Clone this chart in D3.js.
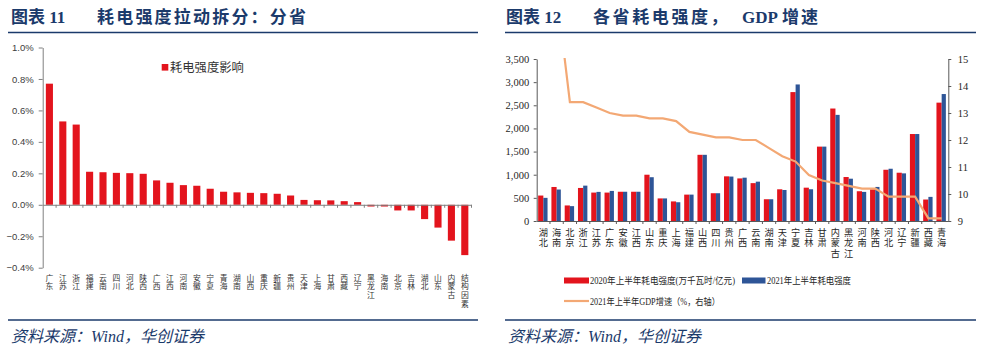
<!DOCTYPE html>
<html>
<head>
<meta charset="utf-8">
<script src="https://cdn.jsdelivr.net/npm/d3@7"></script>
<style>
  html, body { margin: 0; padding: 0; background: #ffffff; }
  svg { display: block; }
  .vlab { writing-mode: vertical-rl; text-orientation: upright; }
</style>
</head>
<body>
<svg id="chart" width="983" height="353"></svg>
<script>
// ---------------- Chart 11 data ----------------
const leftCategories = ["广东","江苏","浙江","福建","云南","四川","河北","陕西","广西","江西","河南","安徽","宁夏","青海","湖南","山西","重庆","新疆","贵州","天津","上海","甘肃","西藏","辽宁","黑龙江","海南","北京","吉林","湖北","山东","内蒙古","结构因素"];
const leftValues = [0.77,0.53,0.51,0.21,0.207,0.203,0.201,0.197,0.155,0.14,0.125,0.121,0.102,0.083,0.079,0.076,0.074,0.07,0.059,0.031,0.029,0.028,0.023,0.017,-0.011,-0.011,-0.036,-0.036,-0.091,-0.145,-0.228,-0.32];
const leftTicks = [1.0,0.8,0.6,0.4,0.2,0.0,-0.2,-0.4];
const leftLegend = "耗电强度影响";

// ---------------- Chart 12 data ----------------
const rightCategories = ["湖北","海南","北京","浙江","江苏","广东","安徽","江西","山东","重庆","上海","福建","山西","四川","贵州","广西","云南","湖南","天津","宁夏","吉林","甘肃","内蒙古","黑龙江","河南","陕西","河北","辽宁","新疆","西藏","青海"];
const intensity2020 = [550,735,336,714,614,614,632,632,1000,488,423,570,1430,600,965,920,818,470,685,2785,720,1607,2430,950,643,686,1107,1043,1879,464,2557];
const intensity2021 = [500,680,321,764,629,650,632,632,946,488,405,570,1430,600,960,936,850,470,670,2950,686,1607,2293,914,629,736,1129,1029,1879,521,2743];
const gdpGrowth = [28.5,17.5,13.4,13.4,13.2,13.0,12.9,12.9,12.8,12.8,12.7,12.3,12.2,12.1,12.1,12.0,12.0,11.7,11.4,11.2,10.7,10.5,10.4,10.3,10.2,10.2,9.9,9.9,9.9,9.1,9.1];
const leftAxisTicks = [0,500,1000,1500,2000,2500,3000,3500];
const rightAxisTicks = [9,10,11,12,13,14,15];
const legendNames = ["2020年上半年耗电强度(万千瓦时/亿元)","2021年上半年耗电强度","2021年上半年GDP增速（%，右轴）"];

const svg = d3.select("#chart");
const NAVY = "#1b3a6b";
const RED = "#e3141d";
const BLUE = "#2e5597";
const ORANGE = "#f3a874";
const CJK = "'Noto Sans CJK SC', sans-serif";
const SERIF_CJK = "'Liberation Serif', 'Noto Sans CJK SC', serif";

// ---------- Headers / footers ----------
function header(x0, x1, parts) {
  const t = svg.append("text").attr("y", 23).attr("fill", NAVY)
    .attr("font-weight", "bold").attr("font-size", 17).attr("font-family", SERIF_CJK);
  parts.forEach(p => {
    t.append("tspan").attr("x", p.x).text(p.t)
      .attr("letter-spacing", p.ls || 0);
  });
  svg.append("line").attr("x1", x0).attr("x2", x1).attr("y1", 32.5).attr("y2", 32.5)
    .attr("stroke", NAVY).attr("stroke-width", 1.5);
  svg.append("line").attr("x1", x0).attr("x2", x1).attr("y1", 320).attr("y2", 320)
    .attr("stroke", NAVY).attr("stroke-width", 1.5);
  svg.append("text").attr("x", x0 + 3).attr("y", 342).attr("fill", NAVY)
    .attr("font-size", 16).attr("font-style", "italic").attr("font-family", SERIF_CJK)
    .text("资料来源：Wind，华创证券");
}
header(8, 478, [{x: 11, t: "图表 11"}, {x: 97, t: "耗电强度拉动拆分：分省", ls: 2.2}]);
header(505, 976, [{x: 506, t: "图表 12"}, {x: 593, t: "各省耗电强度，", ls: 2.6}, {x: 742, t: "GDP"}, {x: 782, t: "增速", ls: 2}]);

// ---------- Chart 11 ----------
{
  const x = d3.scaleBand().domain(leftCategories).range([42.7, 471.5]).paddingInner(0.47).paddingOuter(0.235);
  const y = d3.scaleLinear().domain([-0.4, 1.0]).range([267.7, 47.5]);
  const g = svg.append("g");

  g.selectAll("rect.bar").data(leftValues).join("rect")
    .attr("x", (d, i) => x(leftCategories[i]))
    .attr("width", x.bandwidth())
    .attr("y", d => y(Math.max(0, d)))
    .attr("height", d => Math.abs(y(d) - y(0)))
    .attr("fill", RED);

  const ya = g.append("g").attr("transform", "translate(42.7,0)")
    .call(d3.axisLeft(y).tickValues(leftTicks).tickSize(4).tickSizeOuter(0).tickFormat(d => d3.format(".1f")(d) + "%"));
  ya.select(".domain").attr("stroke", "#808080");
  ya.selectAll(".tick line").attr("stroke", "#808080");
  ya.selectAll(".tick text").attr("font-family", "'Liberation Sans', Arial, sans-serif")
    .attr("font-size", 9.5).attr("fill", "#404040").attr("dx", -2);

  const step = x.step();
  const bounds = leftCategories.map(c => x(c) - x.paddingInner() * step / 2);
  const xa = g.append("g").attr("transform", `translate(0,${y(0)})`)
    .call(d3.axisBottom(x).tickSize(0).tickSizeOuter(0).tickFormat(""));
  xa.select(".domain").attr("stroke", "#808080");
  g.selectAll("line.xt").data(bounds.concat([bounds[bounds.length - 1] + step]).slice(1)).join("line")
    .attr("x1", d => d).attr("x2", d => d).attr("y1", y(0)).attr("y2", y(0) + 3)
    .attr("stroke", "#808080");

  g.selectAll("text.lx").data(leftCategories).join("text")
    .attr("class", "vlab").attr("font-family", CJK).attr("font-size", 7.8).attr("fill", "#333")
    .attr("letter-spacing", 0.8)
    .attr("x", c => x(c) + x.bandwidth() / 2).attr("y", 274).text(c => c);

  g.append("rect").attr("x", 161.7).attr("y", 64).attr("width", 6.6).attr("height", 6.6).attr("fill", RED);
  g.append("text").attr("x", 170).attr("y", 71.5).attr("font-family", CJK).attr("font-size", 12.3)
    .attr("fill", "#333").text(leftLegend);
}

// ---------- Chart 12 ----------
{
  const x = d3.scaleBand().domain(rightCategories).range([536.7, 948.3]);
  const yL = d3.scaleLinear().domain([0, 3500]).range([221, 59]);
  const yR = d3.scaleLinear().domain([9, 15]).range([221, 59]);
  const g = svg.append("g");
  const c = cat => x(cat) + x.bandwidth() / 2;

  g.selectAll("rect.r20").data(intensity2020).join("rect")
    .attr("x", (d, i) => c(rightCategories[i]) - 5.2).attr("width", 5.2)
    .attr("y", d => yL(d)).attr("height", d => yL(0) - yL(d)).attr("fill", RED);
  g.selectAll("rect.r21").data(intensity2021).join("rect")
    .attr("x", (d, i) => c(rightCategories[i])).attr("width", 4.2)
    .attr("y", d => yL(d)).attr("height", d => yL(0) - yL(d)).attr("fill", BLUE);

  svg.append("clipPath").attr("id", "plotclip").append("rect")
    .attr("x", 536.7).attr("y", 58).attr("width", 411.6).attr("height", 164);
  const line = d3.line().x((d, i) => c(rightCategories[i])).y(d => yR(d));
  g.append("path").datum(gdpGrowth).attr("d", line).attr("fill", "none")
    .attr("stroke", ORANGE).attr("stroke-width", 2.2).attr("clip-path", "url(#plotclip)");

  const fmt = d3.format(",");
  const al = g.append("g").attr("transform", "translate(536.7,0)")
    .call(d3.axisLeft(yL).tickValues(leftAxisTicks).tickSize(3).tickSizeOuter(0).tickFormat(fmt));
  const ar = g.append("g").attr("transform", "translate(948.3,0)")
    .call(d3.axisRight(yR).tickValues(rightAxisTicks).tickSize(3).tickSizeOuter(0).tickFormat(d3.format("d")));
  [al, ar].forEach(a => {
    a.select(".domain").attr("stroke", "#595959");
    a.selectAll(".tick line").attr("stroke", "#595959");
    a.selectAll(".tick text").attr("font-family", "'Liberation Serif', 'Times New Roman', serif")
      .attr("font-size", 10.5).attr("fill", "#262626");
  });
  al.selectAll(".tick text").attr("dx", -1.5);
  ar.selectAll(".tick text").attr("dx", 3.5);

  const xa = g.append("g").attr("transform", "translate(0,221)")
    .call(d3.axisBottom(x).tickSize(0).tickSizeOuter(0).tickFormat(""));
  xa.select(".domain").attr("stroke", "#595959");
  const bnds = rightCategories.map(k => x(k));
  g.selectAll("line.xt").data(bnds.slice(1)).join("line")
    .attr("x1", d => d).attr("x2", d => d).attr("y1", 221).attr("y2", 224).attr("stroke", "#595959");

  g.selectAll("text.rx").data(rightCategories).join("text")
    .attr("class", "vlab").attr("font-family", CJK).attr("font-size", 9.2).attr("fill", "#262626")
    .attr("letter-spacing", 1.2)
    .attr("x", k => c(k)).attr("y", 228).text(k => k);

  g.append("rect").attr("x", 564).attr("y", 277.5).attr("width", 25).attr("height", 6).attr("fill", RED);
  g.append("text").attr("x", 590).attr("y", 284).attr("font-family", SERIF_CJK).attr("font-size", 9.4)
    .attr("textLength", 145).attr("lengthAdjust", "spacingAndGlyphs")
    .attr("fill", "#262626").text(legendNames[0]);
  g.append("rect").attr("x", 742).attr("y", 277.5).attr("width", 23.5).attr("height", 6).attr("fill", BLUE);
  g.append("text").attr("x", 767).attr("y", 284).attr("font-family", SERIF_CJK).attr("font-size", 9.4)
    .attr("textLength", 84).attr("lengthAdjust", "spacingAndGlyphs")
    .attr("fill", "#262626").text(legendNames[1]);
  g.append("line").attr("x1", 564).attr("x2", 589).attr("y1", 301).attr("y2", 301)
    .attr("stroke", ORANGE).attr("stroke-width", 2.2);
  g.append("text").attr("x", 590).attr("y", 305).attr("font-family", SERIF_CJK).attr("font-size", 9.4)
    .attr("textLength", 130).attr("lengthAdjust", "spacingAndGlyphs")
    .attr("fill", "#262626").text(legendNames[2]);
}
</script>
</body>
</html>
